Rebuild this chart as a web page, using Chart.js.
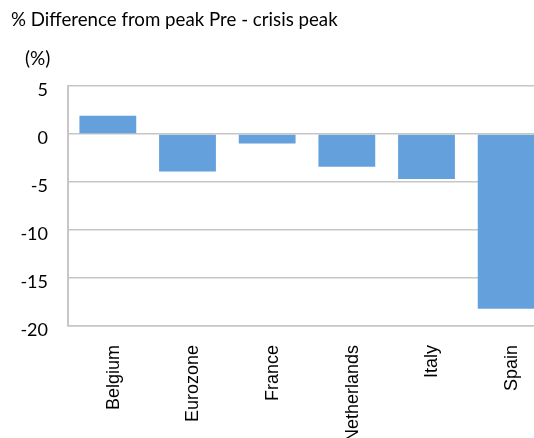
<!DOCTYPE html>
<html>
<head>
<meta charset="utf-8">
<script src="https://cdn.jsdelivr.net/npm/chart.js@4.4.1/dist/chart.umd.min.js"></script>
<style>
  html, body { margin: 0; padding: 0; overflow: hidden; background: #ffffff; }
  #wrap { position: relative; width: 546px; height: 438px; }
</style>
</head>
<body>
<div id="wrap"><canvas id="chart" width="546" height="438"></canvas></div>
<script>
// Output gap versus pre-crisis peak, by country
const categories = ['Belgium', 'Eurozone', 'France', 'Netherlands', 'Italy', 'Spain'];
const differenceFromPeak = [1.9, -3.9, -1.0, -3.4, -4.7, -18.2];
const yTickValues = [5, 0, -5, -10, -15, -20];
const chartTitle = '% Difference from peak Pre - crisis peak';
const unitLabel = '(%)';

const gridGrey = '#c6c6c6';
const barBlue = '#64a0dc';

// Title and unit caption drawn in the top margin
const headerText = {
  id: 'headerText',
  afterDraw(chart) {
    const ctx = chart.ctx;
    ctx.save();
    ctx.fillStyle = '#000000';
    ctx.textAlign = 'left';
    ctx.textBaseline = 'middle';
    ctx.font = '18.7px Lato';
    ctx.fillText(chartTitle, 11, 20);
    ctx.font = '19px Lato';
    ctx.fillText(unitLabel, 25, 59);
    ctx.restore();
  }
};

new Chart(document.getElementById('chart'), {
  type: 'bar',
  data: {
    labels: categories,
    datasets: [{
      data: differenceFromPeak,
      backgroundColor: barBlue,
      borderWidth: 0,
      barPercentage: 1.0,
      categoryPercentage: 0.713
    }]
  },
  options: {
    responsive: false,
    animation: false,
    devicePixelRatio: 1,
    layout: { padding: { top: 86, left: 0, right: 0, bottom: 0 } },
    plugins: {
      legend: { display: false },
      tooltip: { enabled: false },
      title: { display: false }
    },
    scales: {
      x: {
        grid: { display: false },
        border: { display: true, color: gridGrey, width: 1.5 },
        ticks: {
          color: '#000000',
          font: { family: 'Liberation Sans', size: 18 },
          minRotation: 90,
          maxRotation: 90,
          padding: 11,
          labelOffset: 6,
          autoSkip: false
        },
        afterFit(scale) { scale.height = 112; }
      },
      y: {
        min: -20,
        max: 5,
        afterBuildTicks(scale) {
          scale.ticks = yTickValues.map(v => ({ value: v }));
        },
        grid: { color: gridGrey, lineWidth: 1.5, drawTicks: false },
        border: { display: true, color: gridGrey, width: 2 },
        ticks: {
          color: '#000000',
          font: { family: 'Lato', size: 18 },
          padding: 20,
          labelOffset: 4
        },
        afterFit(scale) { scale.width = 68; }
      }
    }
  },
  plugins: [headerText]
});
</script>
</body>
</html>
